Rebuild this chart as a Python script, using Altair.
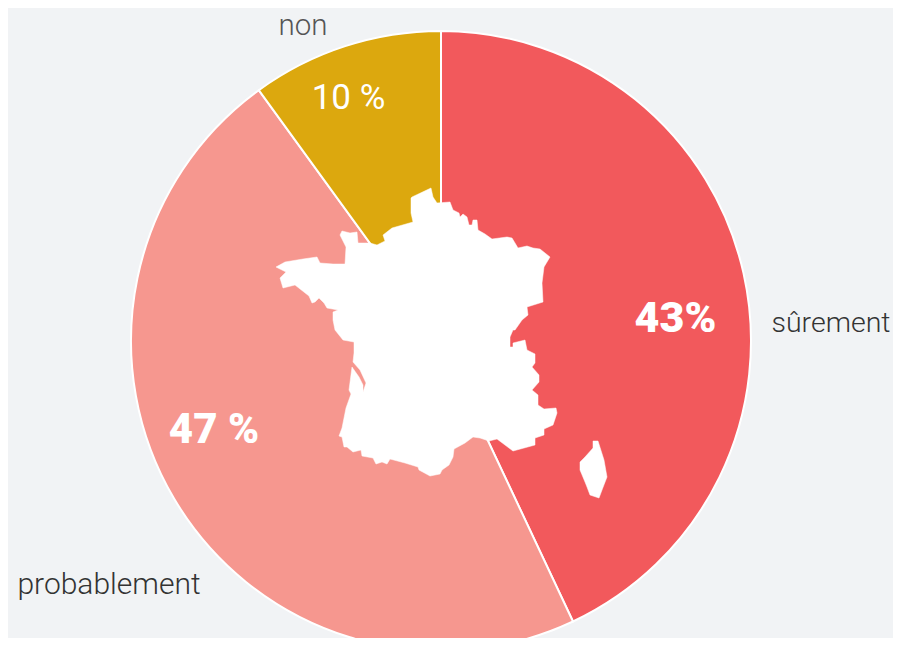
import altair as alt
import pandas as pd

# Values
categories = ["sûrement", "probablement", "non"]
shares = [43, 47, 10]
orders = [1, 2, 3]
colors = ["#F2595C", "#F6978F", "#DCA80E"]

BG = "#F1F3F5"

# France outline (map units)
france_x = [431,433,437,450,453,459,460,463,467,469,472,473,477,478,485,492,507,512,518,527,533,540,550,544,542,543,527,528,522,515,
            513,510,510,513,513,525,527,535,535,532,539,539,532,538,538,544,556,557,553,544,544,535,535,524,513,497,489,480,473,
            465,454,453,449,442,440,430,419,418,405,390,387,382,376,373,362,361,353,347,344,342,339,342,346,351,349,352,359,363,363,366,360,353,354,354,343,335,
            333,333,338,327,324,319,315,312,309,295,283,280,286,276,285,303,317,320,333,345,346,340,342,350,357,358,370,377,385,383,392,413,411,411,412]
france_y = [188,197,203,202,210,213,217,214,217,225,225,220,220,230,234,239,237,238,248,246,248,249,257,267,283,302,307,315,320,330,
            330,337,347,347,343,340,350,354,363,367,375,382,390,395,405,409,408,413,425,429,435,438,445,448,451,439,441,438,437,
            443,449,457,465,470,474,476,470,467,463,459,464,462,464,458,456,450,452,447,447,437,436,428,408,394,390,367,377,385,392,383,370,362,353,342,340,330,
            320,312,310,308,303,298,302,303,296,285,288,278,272,267,262,259,257,263,264,264,247,235,231,233,232,243,243,245,241,235,228,222,213,198,197]
corsica_x = [593,598,604,607,602,599,590,587,585,580,580,585,593]
corsica_y = [441,441,460,477,490,498,495,487,482,470,462,457,448]

def ring(xs, ys):
    pts = [[x, y] for x, y in zip(xs, ys)]
    return pts + [pts[0]]

map_features = [
    {"type": "Feature", "properties": {"name": "France"},
     "geometry": {"type": "Polygon", "coordinates": [ring(france_x, france_y)]}},
    {"type": "Feature", "properties": {"name": "Corse"},
     "geometry": {"type": "Polygon", "coordinates": [ring(corsica_x, corsica_y)]}},
]

df = pd.DataFrame({"cat": categories, "share": shares, "ord": orders})

pie = alt.Chart(df).mark_arc(radius=310, stroke="white", strokeWidth=2).encode(
    theta=alt.Theta("share:Q", stack=True, scale=alt.Scale(domain=[0, 100], range=[0, 6.283185307])),
    order=alt.Order("ord:Q"),
    color=alt.Color("cat:N", scale=alt.Scale(domain=categories, range=colors), legend=None),
    x=alt.value(433),
    y=alt.value(333),
)

france = alt.Chart(alt.Data(values=map_features)).mark_geoshape(
    fill="white", stroke="white", strokeWidth=0.5
).project(type="identity", scale=1, translate=[-8, -8])

FONT = "Roboto"

def label(text, px, py, size, weight, color, font=FONT):
    return alt.Chart(pd.DataFrame({"t": [text]})).mark_text(
        font=font, fontSize=size, fontWeight=weight, color=color,
        align="center", baseline="middle",
    ).encode(text="t:N", x=alt.value(px), y=alt.value(py))

labels = [
    label("43%", 667.5, 311, 43, 900, "white"),
    label("47 %", 206, 422, 42, 900, "white"),
    label("10 %", 340.5, 90, 35, 400, "white"),
    label("sûrement", 823, 315, 28.5, 300, "#333333"),
    label("probablement", 101, 577, 30, 300, "#333333"),
    label("non", 295, 18, 29.5, 300, "#555555"),
]

chart = alt.layer(pie, france, *labels).properties(
    width=885, height=630, background=BG,
    padding=0, autosize=alt.AutoSizeParams(type="none"),
).configure_view(stroke=None)

chart.save("out.html", embed_options={"renderer": "svg", "actions": False})
